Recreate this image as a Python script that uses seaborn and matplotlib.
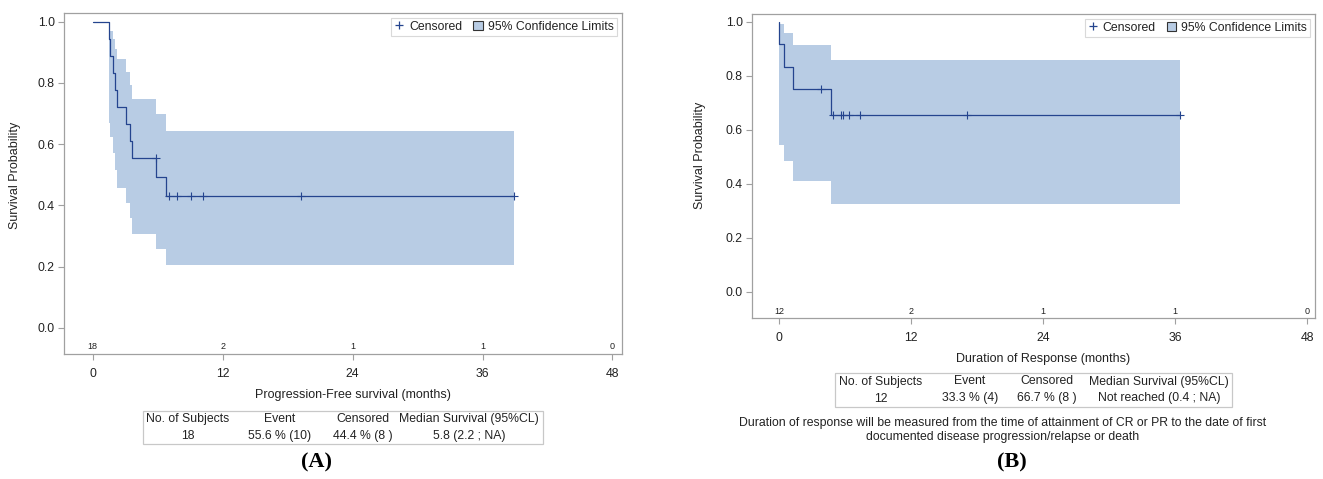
import numpy as np
import pandas as pd
import seaborn as sns
import matplotlib.pyplot as plt
from matplotlib.lines import Line2D
from matplotlib.patches import Patch, Rectangle

# ---- data ----
# panel A: progression-free survival
km_a_time = [0, 1.48, 1.6, 1.85, 2.03, 2.2, 3.05, 3.47, 3.63, 5.8, 6.8, 38.9]
km_a_surv = [1.0, 0.944, 0.889, 0.833, 0.778, 0.722, 0.667, 0.611, 0.556, 0.494, 0.432, 0.432]
cens_a_time = [5.8, 7.07, 7.81, 9.1, 10.21, 19.26, 38.9]
cens_a_surv = [0.556, 0.432, 0.432, 0.432, 0.432, 0.432, 0.432]
ci_a_time = [1.48, 1.6, 1.85, 2.03, 2.2, 3.05, 3.47, 3.63, 5.8, 6.8, 38.9]
ci_a_upper = [0.983, 0.970, 0.942, 0.909, 0.877, 0.836, 0.793, 0.747, 0.697, 0.644, 0.644]
ci_a_lower = [0.668, 0.624, 0.572, 0.516, 0.458, 0.407, 0.358, 0.306, 0.257, 0.206, 0.206]
risk_a = [18, 2, 1, 1, 0]

# panel B: duration of response
km_b_time = [0, 0, 0.43, 1.24, 4.72, 36.4]
km_b_surv = [1.0, 0.917, 0.833, 0.75, 0.656, 0.656]
cens_b_time = [3.81, 4.9, 5.66, 5.8, 6.38, 7.34, 17.1, 36.4]
cens_b_surv = [0.75, 0.656, 0.656, 0.656, 0.656, 0.656, 0.656, 0.656]
ci_b_time = [0, 0.43, 1.24, 4.72, 36.4]
ci_b_upper = [0.991, 0.957, 0.914, 0.857, 0.857]
ci_b_lower = [0.543, 0.485, 0.411, 0.325, 0.325]
risk_b = [12, 2, 1, 1, 0]

risk_ticks = [0, 12, 24, 36, 48]
table_header = ["No. of Subjects", "Event", "Censored", "Median Survival (95%CL)"]
table_a = ["18", "55.6 % (10)", "44.4 % (8 )", "5.8 (2.2 ; NA)"]
table_b = ["12", "33.3 % (4)", "66.7 % (8 )", "Not reached (0.4 ; NA)"]

LINE = '#24448e'
BAND = '#b8cce4'
FRAME = '#a0a0a0'
TXT = '#222222'

sns.set_style("white")
plt.rcParams['font.family'] = ['Liberation Sans', 'DejaVu Sans']

W, H = 1323, 479
fig = plt.figure(figsize=(W / 100, H / 100), dpi=100)


def px(x, y):
    # pixel position in the reference -> figure fraction
    return x / W, 1 - y / H


def draw_panel(ax, km_t, km_s, c_t, c_s, ci_t, ci_lo, ci_hi, risk, xlim, ylim):
    ax.fill_between(ci_t, ci_lo, ci_hi, step='post', color=BAND, linewidth=0, zorder=1)
    sns.lineplot(x=km_t, y=km_s, ax=ax, drawstyle='steps-post', estimator=None,
                 sort=False, color=LINE, linewidth=0.9, zorder=2)
    sns.scatterplot(x=c_t, y=c_s, ax=ax, marker='+', s=36, color=LINE,
                    linewidth=0.8, zorder=3)
    ax.set_xlim(*xlim)
    ax.set_ylim(*ylim)
    ax.set_xticks(risk_ticks)
    ax.set_yticks(np.arange(0, 1.01, 0.2))
    ax.yaxis.set_major_formatter(plt.FormatStrFormatter('%.1f'))
    for sp in ax.spines.values():
        sp.set_visible(True)
        sp.set_color(FRAME)
        sp.set_linewidth(0.9)
    ax.tick_params(direction='out', length=4, width=0.8, color=FRAME,
                   labelsize=8.8, labelcolor=TXT, bottom=True, left=True)
    ax.tick_params(axis='y', pad=2.5)
    ax.tick_params(axis='x', pad=6)
    for t, n in zip(risk_ticks, risk):
        ax.text(t, 0.021, str(n), transform=ax.get_xaxis_transform(),
                ha='center', va='center', fontsize=6.5, color=TXT)
    handles = [Line2D([], [], marker='+', linestyle='none', color=LINE, markersize=6, markeredgewidth=0.9),
               Patch(facecolor=BAND, edgecolor='#333333', linewidth=0.8)]
    leg = ax.legend(handles, ['Censored', '95% Confidence Limits'], ncol=2, loc='upper right',
                    fontsize=8.8, frameon=True, fancybox=False, edgecolor='#d0d0d0',
                    handlelength=0.8, handleheight=0.8, handletextpad=0.4, columnspacing=0.9,
                    borderpad=0.25, borderaxespad=0.4)
    leg.get_frame().set_linewidth(0.8)
    for t in leg.get_texts():
        t.set_color(TXT)


def draw_table(x0, y0, x1, y1, col_x, header, values):
    fig.add_artist(Rectangle(px(x0, y1), (x1 - x0) / W, (y1 - y0) / H, transform=fig.transFigure,
                             facecolor='white', edgecolor='#c8c8c8', linewidth=0.9))
    ym = (y0 + y1) / 2
    for cx, h, v in zip(col_x, header, values):
        fig.text(*px(cx, ym - 8.5), h, ha='center', va='center', fontsize=8.8, color=TXT)
        fig.text(*px(cx, ym + 8.5), v, ha='center', va='center', fontsize=8.8, color=TXT)


# ---- panel A ----
ax_a = fig.add_axes([64 / W, 1 - 354 / H, (621.7 - 64) / W, (354 - 13) / H])
draw_panel(ax_a, km_a_time, km_a_surv, cens_a_time, cens_a_surv, ci_a_time, ci_a_lower, ci_a_upper,
           risk_a, (-2.65, 48.85), (-0.085, 1.028))
ax_a.set_ylabel('Survival Probability', fontsize=9, color=TXT)
ax_a.yaxis.set_label_coords((21 - 64) / (621.7 - 64), (354 - 175) / 341)
ax_a.set_xlabel('')
fig.text(*px(352.7, 395), 'Progression-Free survival (months)', ha='center', va='center',
         fontsize=9, color=TXT)
draw_table(143, 410.7, 542.7, 444.3, [188, 280, 363, 469], table_header, table_a)
fig.text(*px(317, 462), '(A)', ha='center', va='center', fontsize=16, fontweight='bold',
         family='Liberation Serif', color='black')

# ---- panel B ----
ax_b = fig.add_axes([751.7 / W, 1 - 317.7 / H, (1315 - 751.7) / W, (317.7 - 14) / H])
draw_panel(ax_b, km_b_time, km_b_surv, cens_b_time, cens_b_surv, ci_b_time, ci_b_lower, ci_b_upper,
           risk_b, (-2.5, 48.7), (-0.096, 1.028))
ax_b.set_ylabel('Survival Probability', fontsize=9, color=TXT)
ax_b.yaxis.set_label_coords((706 - 751.7) / (1315 - 751.7), (317.7 - 155) / (317.7 - 14))
ax_b.set_xlabel('')
fig.text(*px(1043, 359), 'Duration of Response (months)', ha='center', va='center',
         fontsize=9, color=TXT)
draw_table(835.3, 373.3, 1232.3, 406.7, [880.5, 970, 1047, 1159], table_header, table_b)
fig.text(*px(1003, 430), 'Duration of response will be measured from the time of attainment of CR or PR '
         'to the date of first\ndocumented disease progression/relapse or death',
         ha='center', va='center', fontsize=8.8, color=TXT, linespacing=1.2)
fig.text(*px(1012, 462), '(B)', ha='center', va='center', fontsize=16, fontweight='bold',
         family='Liberation Serif', color='black')

fig.savefig('out.png', dpi=100, facecolor='white')
